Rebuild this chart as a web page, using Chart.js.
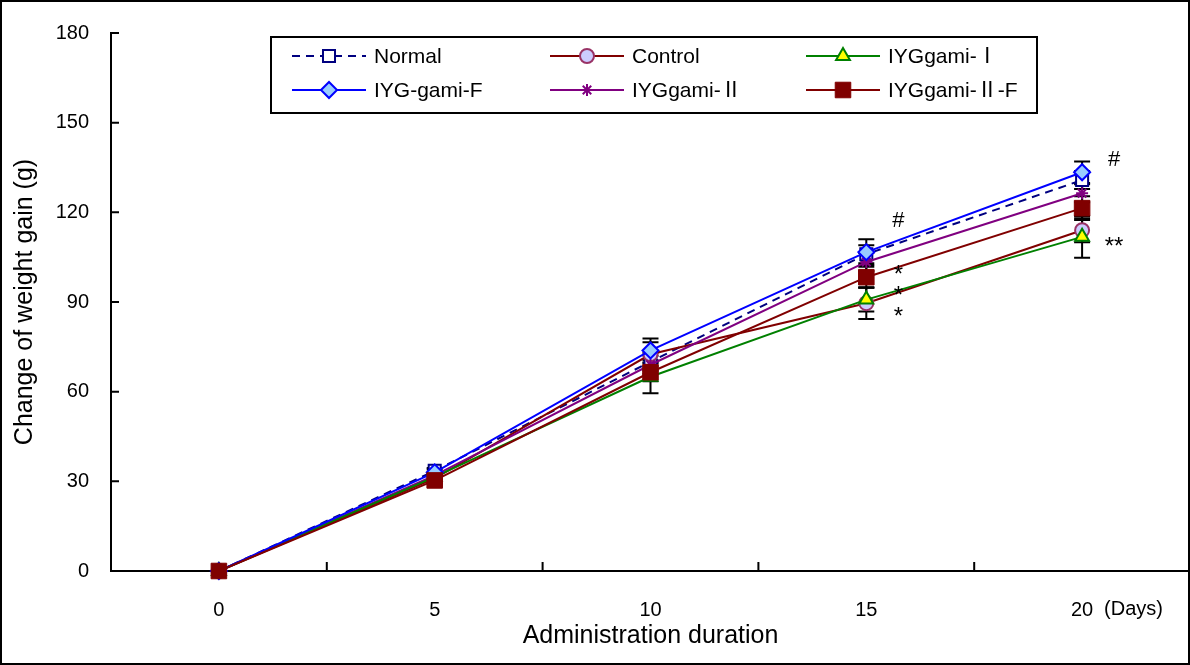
<!DOCTYPE html>
<html>
<head>
<meta charset="utf-8">
<script src="https://cdn.jsdelivr.net/npm/chart.js@4.4.0/dist/chart.umd.min.js"></script>
<style>
    html, body { margin: 0; padding: 0; background: #fff; }
    #wrap { width: 1190px; height: 665px; position: relative; }
</style>
</head>
<body>
<div id="wrap"><canvas id="myChart" width="1190" height="665"></canvas></div>
<script>
let days = [0, 5, 10, 15, 20];
let yTicks = [0, 30, 60, 90, 120, 150, 180];
let xMidTicks = [2.5, 7.5, 12.5, 17.5];

let names = ['Normal', 'Control', 'IYGgami-Ⅰ', 'IYG-gami-F', 'IYGgami-Ⅱ', 'IYGgami-Ⅱ-F'];

let normal   = [0, 33.5, 70, 106, 130.8];
let control  = [0, 31, 72.5, 89.6, 114];
let gamiI    = [0, 31.5, 65, 90.8, 111.8];
let gamiF    = [0, 33, 73.8, 106.7, 133.4];
let gamiII   = [0, 32, 69, 103.4, 126.4];
let gamiIIF  = [0, 30.3, 66.5, 98.3, 121.4];

// error bar half-lengths (SD)
let normalSd  = [0, 1, 3, 3, 3];
let controlSd = [0, 1, 4, 5.3, 4];
let gamiISd   = [0, 1, 5.5, 4, 7];
let gamiFSd   = [0, 1, 4, 4.3, 3.6];
let gamiIISd  = [0, 1, 3, 3, 3];
let gamiIIFSd = [0, 1, 3, 3.5, 4];

let notes = [
    {day: 15, value: 117, text: '#'},
    {day: 15, value: 100.5, text: '*'},
    {day: 15, value: 93.5, text: '*'},
    {day: 15, value: 86.5, text: '*'},
    {day: 20, value: 137.5, text: '#'},
    {day: 20, value: 110, text: '**'}
];

let fontFamily = '"Liberation Sans", Arial, sans-serif';
let romanFamily = '"Liberation Sans", "Noto Sans CJK KR", sans-serif';

let mk = (label, data, sd, color, opts) => ({
    label: label,
    data: days.map((d, i) => ({x: d, y: data[i]})),
    sd: sd,
    borderColor: color,
    borderWidth: 2,
    tension: 0,
    fill: false,
    clip: false,
    pointBorderWidth: 2,
    pointHoverRadius: 0,
    ...opts
});

let datasets = [
    mk(names[0], normal, normalSd, '#000080', {borderDash: [8, 6], pointStyle: 'rect', pointRadius: 8.5, pointBackgroundColor: '#ffffff', pointBorderColor: '#000080', order: 5}),
    mk(names[1], control, controlSd, '#800000', {pointStyle: 'circle', pointRadius: 7, pointBackgroundColor: '#ccccff', pointBorderColor: '#993366', order: 4}),
    mk(names[2], gamiI, gamiISd, '#008000', {pointStyle: 'triangle', pointRadius: 8, pointBackgroundColor: '#ffff00', pointBorderColor: '#008000', order: 2}),
    mk(names[3], gamiF, gamiFSd, '#0000ff', {pointStyle: 'rectRot', pointRadius: 8, pointBackgroundColor: '#99ccff', pointBorderColor: '#0000ff', order: 1}),
    mk(names[4], gamiII, gamiIISd, '#800080', {pointStyle: 'star', pointRadius: 6, pointBackgroundColor: '#800080', pointBorderColor: '#800080', order: 3}),
    mk(names[5], gamiIIF, gamiIIFSd, '#800000', {pointStyle: 'rect', pointRadius: 11, pointBackgroundColor: '#800000', pointBorderColor: '#800000', pointBorderWidth: 1, order: 0})
];

let extras = {
    id: 'extras',
    beforeDatasetsDraw(chart) {
        let ctx = chart.ctx;
        let xs = chart.scales.x, ys = chart.scales.y;
        ctx.save();
        ctx.strokeStyle = '#000';
        ctx.lineWidth = 2;
        chart.data.datasets.forEach(ds => {
            ds.data.forEach((p, i) => {
                let sd = ds.sd[i];
                if (!sd || p.x === 0) return;
                let x = xs.getPixelForValue(p.x);
                let y1 = ys.getPixelForValue(p.y + sd);
                let y2 = ys.getPixelForValue(p.y - sd);
                ctx.beginPath();
                ctx.moveTo(x, y1); ctx.lineTo(x, y2);
                ctx.moveTo(x - 8, y1); ctx.lineTo(x + 8, y1);
                ctx.moveTo(x - 8, y2); ctx.lineTo(x + 8, y2);
                ctx.stroke();
            });
        });
        ctx.restore();
    },
    afterDraw(chart) {
        let ctx = chart.ctx;
        let xs = chart.scales.x, ys = chart.scales.y;
        let area = chart.chartArea;
        ctx.save();
        ctx.strokeStyle = '#000';
        ctx.lineWidth = 2;

        // inward tick marks
        ctx.beginPath();
        yTicks.forEach(v => {
            let y = ys.getPixelForValue(v);
            ctx.moveTo(area.left, y); ctx.lineTo(area.left + 8, y);
        });
        xMidTicks.forEach(v => {
            let x = xs.getPixelForValue(v);
            ctx.moveTo(x, area.bottom); ctx.lineTo(x, area.bottom - 9);
        });
        ctx.stroke();

        // (Days) label
        ctx.fillStyle = '#000';
        ctx.font = '20px ' + fontFamily;
        ctx.textAlign = 'left';
        ctx.textBaseline = 'middle';
        ctx.fillText('(Days)', xs.getPixelForValue(20) + 22, 609);

        // significance marks
        ctx.textAlign = 'center';
        notes.forEach(n => {
            let x = xs.getPixelForValue(n.day) + 32;
            let y = ys.getPixelForValue(n.value);
            let isStar = n.text.indexOf('*') >= 0;
            ctx.font = (isStar ? '24px ' : '22px ') + fontFamily;
            ctx.fillText(n.text, x, y + (isStar ? 5 : 0));
        });

        // legend
        let lx = 271, ly = 37, lw = 766, lh = 76;
        ctx.fillStyle = '#fff';
        ctx.fillRect(lx, ly, lw, lh);
        ctx.strokeRect(lx, ly, lw, lh);
        let cols = [292, 550, 806];
        let rows = [56, 90];
        chart.data.datasets.forEach((ds, i) => {
            let cx = cols[i % 3], cy = rows[Math.floor(i / 3)];
            ctx.save();
            ctx.strokeStyle = ds.borderColor;
            ctx.lineWidth = 2;
            ctx.setLineDash(ds.borderDash || []);
            ctx.beginPath();
            ctx.moveTo(cx, cy); ctx.lineTo(cx + 74, cy);
            ctx.stroke();
            ctx.setLineDash([]);
            ctx.fillStyle = ds.pointBackgroundColor;
            ctx.strokeStyle = ds.pointBorderColor;
            ctx.lineWidth = ds.pointBorderWidth;
            Chart.helpers.drawPoint(ctx, {pointStyle: ds.pointStyle, radius: ds.pointRadius, rotation: 0, borderWidth: ds.pointBorderWidth}, cx + 37, cy);
            ctx.restore();
            ctx.fillStyle = '#000';
            ctx.font = '21px ' + romanFamily;
            ctx.textAlign = 'left';
            ctx.textBaseline = 'middle';
            ctx.fillText(ds.label, cx + 82, cy + 1);
        });

        // outer frame
        ctx.lineWidth = 2;
        ctx.strokeRect(1, 1, chart.width - 2, chart.height - 2);
        ctx.restore();
    }
};

new Chart(document.getElementById('myChart'), {
    type: 'line',
    data: {datasets: datasets},
    options: {
        responsive: false,
        animation: false,
        layout: {autoPadding: false, padding: {top: 33, right: 0, bottom: 0, left: 0}},
        plugins: {legend: {display: false}, tooltip: {enabled: false}},
        scales: {
            x: {
                type: 'linear',
                min: -2.5,
                max: 22.5,
                afterBuildTicks: s => { s.ticks = days.map(v => ({value: v})); },
                afterFit: s => { s.height = 94; s.paddingLeft = 0; s.paddingRight = 0; },
                grid: {display: false, drawTicks: false},
                border: {display: true, color: '#000', width: 2},
                ticks: {color: '#000', font: {family: fontFamily, size: 20}, padding: 27, maxRotation: 0, autoSkip: false},
                title: {display: true, text: 'Administration duration', color: '#000', font: {family: fontFamily, size: 25}, padding: {top: 0, bottom: 14}}
            },
            y: {
                min: 0,
                max: 180,
                afterBuildTicks: s => { s.ticks = yTicks.map(v => ({value: v})); },
                afterFit: s => { s.width = 111; s.paddingTop = 0; s.paddingBottom = 0; },
                grid: {display: false, drawTicks: false},
                border: {display: true, color: '#000', width: 2},
                ticks: {color: '#000', font: {family: fontFamily, size: 20}, padding: 22},
                title: {display: true, text: 'Change of weight gain (g)', color: '#000', font: {family: fontFamily, size: 25}, padding: {top: 10, bottom: 0}}
            }
        }
    },
    plugins: [extras]
});
</script>
</body>
</html>
